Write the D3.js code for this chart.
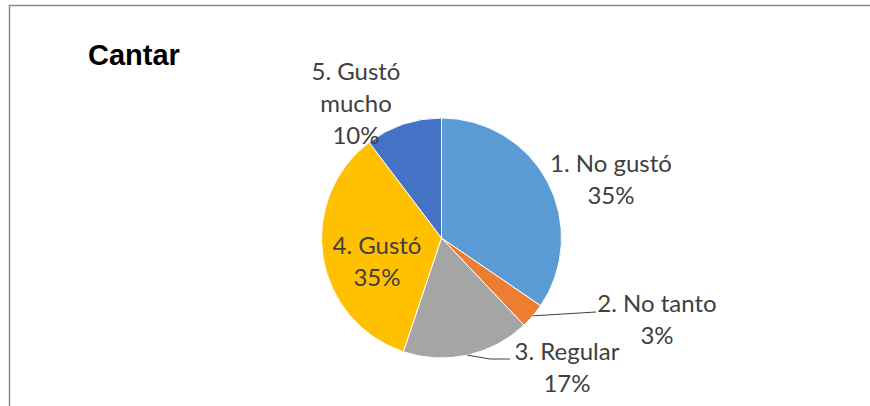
<!DOCTYPE html>
<html>
<head>
<meta charset="utf-8">
<script src="https://cdn.jsdelivr.net/npm/d3@7"></script>
<style>
  html, body { margin: 0; padding: 0; background: #fff; }
  svg { display: block; }
</style>
</head>
<body>
<script>
// data
var categories = ['1. No gustó', '2. No tanto', '3. Regular', '4. Gustó', '5. Gustó mucho'];
var values = [34.5, 3.4, 17.2, 34.5, 10.3];
var pctLabels = ['35%', '3%', '17%', '35%', '10%'];
var colors = ['#5B9BD5', '#ED7D31', '#A5A5A5', '#FFC000', '#4472C4'];

var width = 870, height = 406;
var cx = 441.5, cy = 238, radius = 120;

// label layout (Excel best fit): centre x, first baseline, line breaks, leader end
var labelLayout = [
  { x: 611, y: 172, lines: ['1. No gustó'] },
  { x: 657, y: 312, lines: ['2. No tanto'], leader: [[596, 312]] },
  { x: 567, y: 360, lines: ['3. Regular'], leader: [[490, 359], [510, 359]] },
  { x: 377, y: 254, lines: ['4. Gustó'] },
  { x: 356, y: 80, lines: ['5. Gustó', 'mucho'] }
];
var lineHeight = 32;

var svg = d3.select('body').append('svg')
  .attr('width', width)
  .attr('height', height);

// chart frame (only top and left edges visible)
svg.append('path')
  .attr('d', 'M9.5,' + height + ' L9.5,5.5 L' + width + ',5.5')
  .attr('fill', 'none')
  .attr('stroke', '#8a8a8a')
  .attr('stroke-width', 1.5);

svg.append('text')
  .attr('x', 88)
  .attr('y', 65)
  .attr('font-family', 'Liberation Sans, Arial, sans-serif')
  .attr('font-weight', 'bold')
  .attr('font-size', 29)
  .attr('fill', '#000')
  .text('Cantar');

var pie = d3.pie().sort(null).value(function (d) { return d; });
var arcs = pie(values);
var arc = d3.arc().innerRadius(0).outerRadius(radius);
var edgeArc = d3.arc().innerRadius(radius).outerRadius(radius);

var g = svg.append('g').attr('transform', 'translate(' + cx + ',' + cy + ')');

g.selectAll('path.slice').data(arcs).enter().append('path')
  .attr('class', 'slice')
  .attr('d', arc)
  .attr('fill', function (d, i) { return colors[i]; })
  .attr('stroke', '#fff')
  .attr('stroke-width', 1);

// leader lines start on the arc at the slice's mid angle
arcs.forEach(function (d, i) {
  var lay = labelLayout[i];
  if (!lay.leader) return;
  var p = edgeArc.centroid(d);
  var pts = [[cx + p[0], cy + p[1]]].concat(lay.leader);
  svg.append('path')
    .attr('d', d3.line()(pts))
    .attr('fill', 'none')
    .attr('stroke', '#404040')
    .attr('stroke-width', 1);
});

// data labels
labelLayout.forEach(function (lay, i) {
  var t = svg.append('text')
    .attr('text-anchor', 'middle')
    .attr('font-family', 'Lato, Carlito, Calibri, sans-serif')
    .attr('font-size', 24)
    .attr('fill', '#404040');
  lay.lines.concat([pctLabels[i]]).forEach(function (s, j) {
    t.append('tspan')
      .attr('x', lay.x)
      .attr('y', lay.y + j * lineHeight)
      .text(s);
  });
});
</script>
</body>
</html>
